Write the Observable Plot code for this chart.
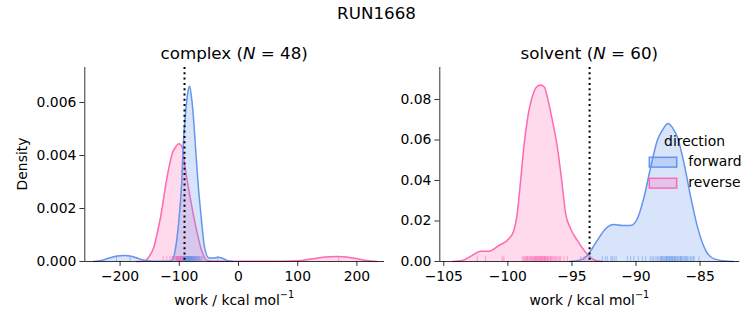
<!DOCTYPE html>
<html><head><meta charset="utf-8">
<script src="https://cdn.jsdelivr.net/npm/d3@7"></script>
<script src="https://cdn.jsdelivr.net/npm/@observablehq/plot@0.6"></script>
<style>
body{margin:0;background:#fff;}
#wrap{position:relative;width:753px;height:325px;font-family:"DejaVu Sans",sans-serif;overflow:hidden;}
#wrap svg{position:absolute;top:0;}
</style></head><body><div id="wrap"></div>
<script>
// ---------- data ----------
const suptitle = "RUN1668";
const panelNames = ["complex", "solvent"];
const panelN = [48, 60];
const directions = ["forward", "reverse"];
const colors = ["#6495ED", "#FF69B4"];

// complex, forward: KDE curve
const complexForwardX = [-245, -232, -218, -205, -193, -181, -169, -157, -145, -130, -118, -112, -106, -99.7, -95.7, -93.5, -89.5, -86.7, -82.8, -79.4, -76.6, -72.6, -68.7, -63.6, -57.4, -50, -43, -35, -27, -19, -10];
const complexForwardD = [0, 0.00004, 0.00013, 0.00021, 0.00023, 0.0002, 0.00011, 0.00004, 0.00001, 0.00001, 0.00001, 0.00004, 0.00054, 0.0018, 0.00306, 0.00431, 0.00557, 0.0062, 0.00662, 0.0062, 0.00557, 0.00431, 0.00306, 0.0018, 0.00054, 0.00013, 0.00013, 0.00016, 0.00012, 0.00004, 0];
// complex, reverse: KDE curve
const complexReverseX = [-172, -164, -157, -150, -143, -137, -130.6, -126, -121.6, -116, -111, -106.4, -100.8, -95, -91.2, -86.7, -81.5, -76.5, -70, -64, -58, -53, -45, -30, 0, 50, 90, 110, 125, 140, 155, 168, 182, 196, 210, 224, 234];
const complexReverseD = [0, 0.00001, 0.00004, 0.00022, 0.00054, 0.0011, 0.0018, 0.00245, 0.00306, 0.0037, 0.00413, 0.00431, 0.00444, 0.00431, 0.00369, 0.00306, 0.0024, 0.0018, 0.0011, 0.00054, 0.00018, 0.00004, 0.00001, 0.00001, 0.00001, 0.00001, 0.00002, 0.00005, 0.0001, 0.00015, 0.00018, 0.00019, 0.00017, 0.00012, 0.00006, 0.00002, 0];
// solvent, forward: KDE curve
const solventForwardX = [-95.2, -94.32, -93.8, -93.02, -92.37, -91.72, -91.07, -90.41, -89.9, -89.37, -88.85, -88.33, -87.94, -87.5, -87.03, -86.77, -86.25, -85.73, -85.2, -84.55, -83.9, -82.86, -82.4];
const solventForwardD = [0, 0.0008, 0.003, 0.0104, 0.0162, 0.0183, 0.0178, 0.0178, 0.0211, 0.0318, 0.0467, 0.0599, 0.0648, 0.0681, 0.0648, 0.0615, 0.0484, 0.0318, 0.017, 0.0054, 0.0013, 0.0001, 0];
// solvent, reverse: KDE curve
const solventReverseX = [-104.3, -103.56, -102.78, -102.13, -101.48, -100.7, -99.92, -99.53, -99.27, -99.0, -98.75, -98.48, -98.1, -97.75, -97.45, -97.15, -96.92, -96.53, -96.14, -95.8, -95.49, -95.1, -94.58, -93.93, -93.15, -92.6];
const solventReverseD = [0, 0.0005, 0.003, 0.0051, 0.0051, 0.0079, 0.0112, 0.0153, 0.0236, 0.0401, 0.0566, 0.0698, 0.0813, 0.0862, 0.0871, 0.0862, 0.0813, 0.0698, 0.0566, 0.0401, 0.0236, 0.0162, 0.0104, 0.0046, 0.0005, 0];

// rug samples (work values)
const complexForwardWork = [-206, -183, -112, -104, -98, -95, -93, -92, -90.5, -89.6, -88.8, -88.1, -87.5, -87, -86.2, -85.7, -85.1, -84.6, -84, -83.5, -83.1, -82.6, -82, -81.4, -81, -80.3, -79.8, -79.2, -78.5, -77.9, -77.1, -76.4, -75.8, -75, -74.1, -73.2, -72.4, -71.3, -70.2, -69, -67.5, -66, -64, -61, -35, -86.5, -83.8, -80.7];
const complexReverseWork = [-127, -121, -116, -112, -109, -107, -105.8, -105, -104.4, -103.9, -103.3, -102.8, -102.2, -101.7, -101.2, -100.6, -100.1, -99.6, -99.1, -98.5, -98, -97.6, -97.1, -96.5, -96, -95.5, -94.8, -94, -93.2, -92.3, -91.4, -90.2, -89, -87.5, -86, -84.3, -82.5, -80.6, -78.8, -76.9, -74.5, -72, -69.5, -66.5, -63, -58, 169, -100.9];
const solventForwardWork = [-92.63, -92.4, -92.24, -91.85, -91.7, -91.55, -90.68, -90.42, -90.16, -89.5, -89.24, -88.9, -88.62, -88.45, -88.33, -88.21, -88.1, -88.0, -87.93, -87.85, -87.77, -87.7, -87.63, -87.56, -87.5, -87.43, -87.36, -87.3, -87.22, -87.15, -87.08, -87.0, -86.92, -86.85, -86.77, -86.7, -86.62, -86.53, -86.45, -86.36, -86.27, -86.18, -86.08, -85.98, -85.87, -85.76, -85.64, -85.52, -85.47, -85.08, -88.75, -88.05, -87.6, -87.2, -86.98, -86.5, -86.12, -91.95, -89.82, -87.4];
const solventReverseWork = [-102.39, -101.74, -100.44, -100.31, -98.88, -98.8, -98.7, -98.62, -98.53, -98.46, -98.37, -98.3, -98.21, -98.13, -98.06, -97.98, -97.92, -97.85, -97.79, -97.72, -97.66, -97.6, -97.54, -97.48, -97.42, -97.37, -97.31, -97.25, -97.19, -97.13, -97.07, -97.0, -96.93, -96.86, -96.79, -96.71, -96.63, -96.55, -96.47, -96.38, -96.29, -96.19, -96.08, -95.98, -95.88, -95.62, -95.36, -94.32, -94.06, -97.5, -97.34, -97.16, -97.69, -97.95, -98.18, -96.9, -96.66, -98.5, -97.8, -97.1];

const complexDeltaG = -91.2;
const solventDeltaG = -93.62;
const complexXTicks = [-200, -100, 0, 100, 200];
const complexYTicks = [0, 0.002, 0.004, 0.006];
const solventXTicks = [-105, -100, -95, -90, -85];
const solventYTicks = [0, 0.02, 0.04, 0.06, 0.08];
const complexXDomain = [-259.6, 246.6];
const complexYDomain = [0, 0.00732];
const solventXDomain = [-105.31, -81.9];
const solventYDomain = [0, 0.0958];

// ---------- build ----------
const wrap = document.getElementById("wrap");
const toRows = (xs, ds) => xs.map((x, i) => ({x, d: ds[i]}));

function panel({left, width, mL, mR, xDomain, yDomain, xTicks, yTicks, yFmt, fwd, rev, fwdRug, revRug, dg}) {
  const rugH = (yDomain[1] - yDomain[0]) * 0.025;
  const svg = Plot.plot({
    width, height: 325,
    marginLeft: mL, marginRight: mR, marginTop: 67, marginBottom: 64,
    style: {fontFamily: "DejaVu Sans", fontSize: "13.9px", color: "black", background: "transparent", overflow: "visible"},
    x: {domain: xDomain},
    y: {domain: yDomain},
    marks: [
      Plot.areaY(rev, {x: "x", y: "d", fill: colors[1], fillOpacity: 0.25, curve: "monotone-x"}),
      Plot.lineY(rev, {x: "x", y: "d", stroke: colors[1], strokeWidth: 1.5, curve: "monotone-x"}),
      Plot.areaY(fwd, {x: "x", y: "d", fill: colors[0], fillOpacity: 0.25, curve: "monotone-x"}),
      Plot.lineY(fwd, {x: "x", y: "d", stroke: colors[0], strokeWidth: 1.5, curve: "monotone-x"}),
      Plot.ruleX(revRug, {x: d => d, y1: 0, y2: rugH, stroke: colors[1], strokeOpacity: 0.55, strokeWidth: 1}),
      Plot.ruleX(fwdRug, {x: d => d, y1: 0, y2: rugH, stroke: colors[0], strokeOpacity: 0.55, strokeWidth: 1}),
      Plot.ruleX([dg], {x: d => d, stroke: "black", strokeWidth: 2, strokeDasharray: "2,3.3"}),
      Plot.axisX({ticks: xTicks, tickSize: 4.9, tickPadding: 4.3, tickFormat: d3.format(".0f"), label: null, strokeWidth: 0.8}),
      Plot.axisY({ticks: yTicks, tickSize: 4.9, tickPadding: 3.5, tickFormat: d3.format(yFmt), label: null, strokeWidth: 0.8}),
      Plot.ruleX([xDomain[0]], {x: d => d, stroke: "black", strokeWidth: 0.8}),
      Plot.ruleY([0], {y: d => d, stroke: "black", strokeWidth: 0.8})
    ]
  });
  svg.style.left = left + "px";
  svg.style.maxWidth = "none";
  wrap.appendChild(svg);
}

panel({left: 0, width: 390, mL: 84.3, mR: 6, xDomain: complexXDomain, yDomain: complexYDomain,
  xTicks: complexXTicks, yTicks: complexYTicks, yFmt: ".3f",
  fwd: toRows(complexForwardX, complexForwardD), rev: toRows(complexReverseX, complexReverseD),
  fwdRug: complexForwardWork, revRug: complexReverseWork, dg: complexDeltaG});
panel({left: 390, width: 363, mL: 49.3, mR: 13.7, xDomain: solventXDomain, yDomain: solventYDomain,
  xTicks: solventXTicks, yTicks: solventYTicks, yFmt: ".2f",
  fwd: toRows(solventForwardX, solventForwardD), rev: toRows(solventReverseX, solventReverseD),
  fwdRug: solventForwardWork, revRug: solventReverseWork, dg: solventDeltaG});

// ---------- text overlay: titles, labels, legend ----------
const ov = d3.select(wrap).append("svg").attr("width", 753).attr("height", 325)
  .style("left", "0px").attr("font-family", "DejaVu Sans").attr("fill", "black");
ov.append("text").attr("x", 376.5).attr("y", 18.5).attr("text-anchor", "middle").attr("font-size", 16.7).text(suptitle);
const centers = [234.2, 589.3];
panelNames.forEach((name, i) => {
  const t = ov.append("text").attr("x", centers[i]).attr("y", 59).attr("text-anchor", "middle").attr("font-size", 16.7);
  t.append("tspan").text(name + " (");
  t.append("tspan").attr("font-style", "italic").text("N");
  t.append("tspan").text(" = " + panelN[i] + ")");
  const xl = ov.append("text").attr("x", centers[i]).attr("y", 304.5).attr("text-anchor", "middle").attr("font-size", 13.9);
  xl.append("tspan").text("work / kcal mol");
  xl.append("tspan").attr("dy", -6.5).attr("font-size", 9.7).text("\u22121");
});
ov.append("text").attr("transform", "translate(21.5,164) rotate(-90)").attr("text-anchor", "middle")
  .attr("dominant-baseline", "central").attr("font-size", 13.9).text("Density");

// legend
ov.append("text").attr("x", 694.5).attr("y", 146).attr("text-anchor", "middle").attr("font-size", 13.9).text("direction");
directions.forEach((dir, i) => {
  const y0 = 157.3 + i * 21;
  ov.append("rect").attr("x", 649.3).attr("y", y0).attr("width", 27.4).attr("height", 9.8)
    .attr("fill", colors[i]).attr("fill-opacity", 0.25).attr("stroke", colors[i]).attr("stroke-width", 1.5);
  ov.append("text").attr("x", 688.3).attr("y", y0 + 9).attr("font-size", 13.9).text(dir);
});
</script></body></html>
